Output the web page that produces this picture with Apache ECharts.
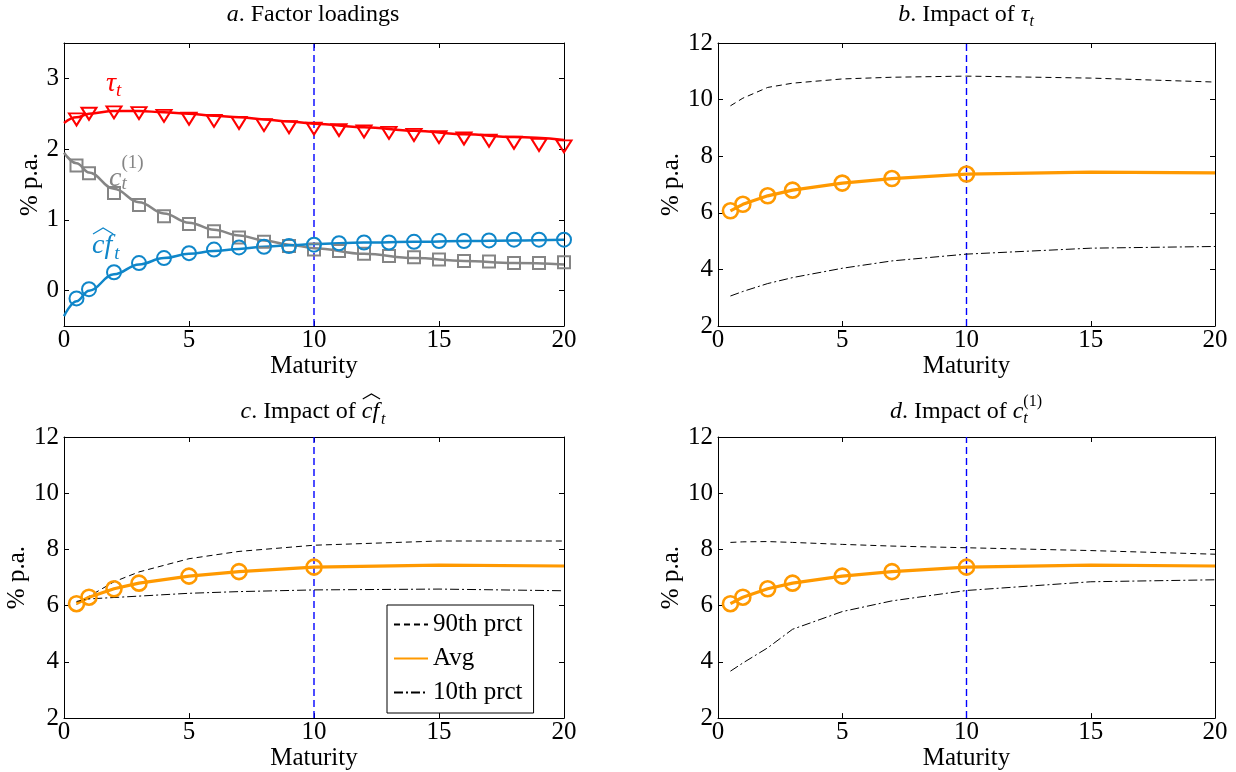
<!DOCTYPE html>
<html>
<head>
<meta charset="utf-8">
<script src="https://cdn.jsdelivr.net/npm/echarts@6/dist/echarts.min.js"></script>
<style>
  html, body { margin: 0; padding: 0; background: #fff; }
  #chart { width: 1236px; height: 772px; }
</style>
</head>
<body>
<div id="chart"></div>
<script>
// ---- Panel a: factor loadings across maturities (years) ----
const loadMaturities = [0.5, 1, 2, 3, 4, 5, 6, 7, 8, 9, 10, 11, 12, 13, 14, 15, 16, 17, 18, 19, 20];
const tauPoints = [2.42, 2.50, 2.52, 2.51, 2.47, 2.43, 2.40, 2.37, 2.34, 2.31, 2.29, 2.27, 2.25, 2.23, 2.20, 2.17, 2.15, 2.12, 2.09, 2.06, 2.04];
const c1Points  = [1.77, 1.66, 1.38, 1.21, 1.05, 0.94, 0.84, 0.75, 0.69, 0.63, 0.58, 0.56, 0.52, 0.49, 0.47, 0.44, 0.42, 0.41, 0.39, 0.39, 0.40];
const cfPoints  = [-0.11, 0.02, 0.26, 0.39, 0.46, 0.53, 0.58, 0.61, 0.62, 0.63, 0.65, 0.67, 0.68, 0.68, 0.69, 0.70, 0.70, 0.71, 0.72, 0.72, 0.72];

const curveMaturities = [0, 0.5, 1, 2, 3, 4, 5, 6, 7, 8, 9, 10, 12, 14, 16, 18, 20];
const tauCurve = [2.37, 2.45, 2.50, 2.54, 2.54, 2.52, 2.50, 2.47, 2.45, 2.42, 2.39, 2.36, 2.31, 2.26, 2.21, 2.17, 2.13];
const c1Curve  = [1.95, 1.80, 1.67, 1.44, 1.25, 1.09, 0.96, 0.86, 0.78, 0.71, 0.65, 0.60, 0.52, 0.46, 0.42, 0.39, 0.37];
const cfCurve  = [-0.36, -0.15, 0.00, 0.23, 0.37, 0.46, 0.52, 0.56, 0.59, 0.62, 0.64, 0.66, 0.68, 0.69, 0.70, 0.71, 0.72];

// ---- Panels b-d: impact on yields (% p.a.) ----
const impactMaturities = [0.5, 1, 2, 3, 5, 7, 10, 15, 20];
const markedMaturities = [0.5, 1, 2, 3, 5, 7, 10];
const avgImpact = [6.07, 6.30, 6.60, 6.80, 7.05, 7.21, 7.37, 7.44, 7.41];
const tauP90 = [9.78, 10.05, 10.43, 10.58, 10.73, 10.79, 10.83, 10.76, 10.62];
const tauP10 = [3.06, 3.22, 3.50, 3.71, 4.04, 4.30, 4.54, 4.75, 4.81];
const cfP90  = [6.05, 6.33, 6.85, 7.20, 7.67, 7.93, 8.15, 8.30, 8.30];
const cfP10  = [6.15, 6.24, 6.29, 6.34, 6.44, 6.50, 6.56, 6.59, 6.53];
const c1P90  = [8.25, 8.27, 8.28, 8.25, 8.18, 8.12, 8.06, 7.96, 7.83];
const c1P10  = [3.67, 3.96, 4.50, 5.16, 5.79, 6.17, 6.54, 6.85, 6.92];

// ---- Axis ranges and ticks ----
const maturityRange = [0, 20];
const loadRange = [-0.5, 3.5];
const impactRange = [2, 12];
const loadTicks = [0, 1, 2, 3];
const refMaturity = 10;

const FAM = '"Liberation Serif", "Times New Roman", serif';
const FS = 25;
const RED = '#ff0000', GRAY = '#858585', BLUE = '#0f86c9', ORANGE = '#ff9900', REFBLUE = '#0000ff';

const pairs = (xs, ys) => xs.map((x, i) => [x, ys[i]]);

const grids = [
  { left: 64,  top: 43,  width: 500, height: 283 },
  { left: 718, top: 43,  width: 497, height: 283 },
  { left: 64,  top: 437, width: 500, height: 283 },
  { left: 718, top: 437, width: 497, height: 283 }
];

function axisBase(extra) {
  return Object.assign({
    type: 'value',
    axisLine: { show: true, onZero: false, lineStyle: { color: '#000', width: 1 } },
    axisTick: { show: true, inside: true, length: 5, lineStyle: { color: '#000', width: 1 } },
    splitLine: { show: false },
    axisPointer: { show: false },
    axisLabel: { color: '#000', fontFamily: FAM, fontSize: FS }
  }, extra);
}

const xAxis = [], yAxis = [];
grids.forEach((g, i) => {
  xAxis.push(axisBase({
    gridIndex: i, position: 'bottom', min: maturityRange[0], max: maturityRange[1], interval: 5,
    name: 'Maturity', nameLocation: 'middle', nameGap: 26,
    nameTextStyle: { color: '#000', fontFamily: FAM, fontSize: FS },
    axisLabel: { color: '#000', fontFamily: FAM, fontSize: FS, margin: 2 }
  }));
  xAxis.push(axisBase({
    gridIndex: i, position: 'top', min: maturityRange[0], max: maturityRange[1], interval: 5,
    axisLabel: { show: false }
  }));
  const isLoad = i === 0;
  const range = isLoad ? { min: loadRange[0], max: loadRange[1] } : { min: impactRange[0], max: impactRange[1], interval: 2 };
  const tickOpt = isLoad
    ? { show: true, inside: true, length: 5, lineStyle: { color: '#000' }, customValues: loadTicks }
    : { show: true, inside: true, length: 5, lineStyle: { color: '#000' } };
  yAxis.push(axisBase(Object.assign({
    gridIndex: i, position: 'left',
    name: '% p.a.', nameLocation: 'middle', nameGap: isLoad ? 21 : 27, nameRotate: 90,
    nameTextStyle: { color: '#000', fontFamily: FAM, fontSize: FS },
    axisTick: tickOpt,
    axisLabel: Object.assign({ color: '#000', fontFamily: FAM, fontSize: FS, margin: 5 },
      isLoad ? { customValues: loadTicks } : {})
  }, range)));
  yAxis.push(axisBase(Object.assign({
    gridIndex: i, position: 'right',
    axisTick: tickOpt,
    axisLabel: { show: false }
  }, range)));
});

function curve(name, xs, ys, color, gi, width, extra) {
  return Object.assign({
    name: name, type: 'line', xAxisIndex: 2 * gi, yAxisIndex: 2 * gi,
    data: pairs(xs, ys), symbol: 'none',
    lineStyle: { color: color, width: width }, itemStyle: { color: color },
    emphasis: { disabled: true },
    z: 3
  }, extra || {});
}
function marks(xs, ys, color, gi, symbol, size, rotate, bw) {
  return {
    type: 'scatter', xAxisIndex: 2 * gi, yAxisIndex: 2 * gi,
    data: pairs(xs, ys), symbol: symbol, symbolSize: size, symbolRotate: rotate || 0,
    itemStyle: { color: 'rgba(255,255,255,0)', borderColor: color, borderWidth: bw || 2, opacity: 1 },
    z: 4, silent: true
  };
}
// vertical dashed line at the 10-year maturity, spanning the panel's y range
function refLine(gi, yr) {
  return curve('ref' + gi, [refMaturity, refMaturity], [yr[0], yr[1]], REFBLUE, gi, 1.4,
    { lineStyle: { color: REFBLUE, width: 1.4, type: [7, 4] }, z: 2, silent: true });
}

const avgMarked = markedMaturities.map(m => avgImpact[impactMaturities.indexOf(m)]);
const DASH = [6, 4], DASHDOT = [9, 3, 2, 3];

const series = [
  // panel a
  refLine(0, loadRange),
  curve('tau', curveMaturities, tauCurve, RED, 0, 2.5, { smooth: 0.4, smoothMonotone: 'x' }),
  curve('c1', curveMaturities, c1Curve, GRAY, 0, 2.5, { smooth: 0.4, smoothMonotone: 'x' }),
  curve('cf', curveMaturities, cfCurve, BLUE, 0, 2.5, { smooth: 0.4, smoothMonotone: 'x' }),
  marks(loadMaturities, tauPoints, RED, 0, 'triangle', [15, 12], 180, 2),
  marks(loadMaturities, c1Points, GRAY, 0, 'rect', [12, 12], 0, 2),
  marks(loadMaturities, cfPoints, BLUE, 0, 'circle', 14, 0, 2)
];

const impactSets = [[tauP90, tauP10], [cfP90, cfP10], [c1P90, c1P10]];
// panel c first so the legend takes its styles from it
[1, 0, 2].forEach(k => {
  const gi = k + 1;
  const [p90, p10] = impactSets[k];
  series.push(
    refLine(gi, impactRange),
    curve('90th prct', impactMaturities, p90, '#000', gi, 1, { lineStyle: { color: '#000', width: 1, type: DASH } }),
    curve('Avg', impactMaturities, avgImpact, ORANGE, gi, 3.2),
    curve('10th prct', impactMaturities, p10, '#000', gi, 1, { lineStyle: { color: '#000', width: 1, type: DASHDOT } }),
    marks(markedMaturities, avgMarked, ORANGE, gi, 'circle', 15, 0, 2.6)
  );
});

// ---- text with sub/superscripts ----
const mctx = document.createElement('canvas').getContext('2d');
function fontOf(p, size) { return (p.it ? 'italic ' : '') + (p.sz || size) + 'px ' + FAM; }
function mathText(parts, o) {
  let x = 0, prevStart = 0, hatA = null, hatB = null;
  const placed = [];
  parts.forEach(p => {
    const f = fontOf(p, o.size);
    mctx.font = f;
    const w = mctx.measureText(p.t).width;
    const start = p.stack ? prevStart : x + (p.gap || 0);
    if (!p.stack) prevStart = start;
    placed.push({ p, f, start, w });
    x = p.stack ? Math.max(x, start + w) : start + w;
    if (p.hatStart) hatA = start;
    if (p.hatEnd) hatB = start + w;
  });
  const left = o.align === 'center' ? o.x - x / 2 : o.x;
  const els = placed.map(q => {
    const sz = q.p.sz || o.size;
    return {
      type: 'text', silent: true,
      x: left + q.start, y: o.base + (q.p.dy || 0) - 0.305 * sz,
      style: { text: q.p.t, font: q.f, fill: o.color, verticalAlign: 'middle', align: 'left' }
    };
  });
  if (hatA !== null) {
    const hy = o.base - o.hatRise;
    els.push({
      type: 'polyline', silent: true,
      shape: { points: [[left + hatA + 1, hy], [left + (hatA + hatB) / 2 + 1, hy - o.hatH], [left + hatB + 1, hy]] },
      style: { stroke: o.color, lineWidth: 1.2, fill: null }
    });
  }
  return els;
}

const graphics = [].concat(
  // panel titles
  mathText([{ t: 'a', it: true }, { t: '. Factor loadings' }], { x: 313, base: 22, size: 24, align: 'center', color: '#000' }),
  mathText([{ t: 'b', it: true }, { t: '. Impact of ' }, { t: 'τ', it: true }, { t: 't', it: true, sz: 16, dy: 5 }],
    { x: 966, base: 22, size: 24, align: 'center', color: '#000' }),
  mathText([{ t: 'c', it: true }, { t: '. Impact of ' }, { t: 'c', it: true, hatStart: true }, { t: 'f', it: true, hatEnd: true },
    { t: 't', it: true, sz: 16, dy: 6, gap: 2 }],
    { x: 313, base: 419, size: 24, align: 'center', color: '#000', hatRise: 20, hatH: 5 }),
  mathText([{ t: 'd', it: true }, { t: '. Impact of ' }, { t: 'c', it: true }, { t: '(1)', sz: 16, dy: -12 },
    { t: 't', it: true, sz: 16, dy: 5, stack: true }],
    { x: 966, base: 419, size: 24, align: 'center', color: '#000' }),
  // curve labels in panel a
  mathText([{ t: 'τ', it: true }, { t: 't', it: true, sz: 19, dy: 5 }], { x: 106, base: 92, size: 28, align: 'left', color: RED }),
  mathText([{ t: 'c', it: true }, { t: '(1)', sz: 19, dy: -18 }, { t: 't', it: true, sz: 19, dy: 3, stack: true }],
    { x: 109, base: 187, size: 28, align: 'left', color: GRAY }),
  mathText([{ t: 'c', it: true, hatStart: true }, { t: 'f', it: true, hatEnd: true }, { t: 't', it: true, sz: 19, dy: 6, gap: 2 }],
    { x: 92, base: 254, size: 28, align: 'left', color: BLUE, hatRise: 20, hatH: 6 })
);

const chart = echarts.init(document.getElementById('chart'), null, { renderer: 'canvas' });
chart.setOption({
  animation: false,
  backgroundColor: '#fff',
  textStyle: { fontFamily: FAM },
  grid: grids.map(g => Object.assign({ containLabel: false }, g)),
  xAxis: xAxis,
  yAxis: yAxis,
  legend: {
    data: ['90th prct', 'Avg', '10th prct'],
    orient: 'vertical', left: 387, top: 605,
    backgroundColor: '#fff', borderColor: '#000', borderWidth: 1,
    padding: [7, 11, 8, 6], itemGap: 9, itemWidth: 34, itemHeight: 14,
    selectedMode: false,
    itemStyle: { color: 'rgba(0,0,0,0)', borderColor: 'rgba(0,0,0,0)', borderWidth: 0 },
    textStyle: { color: '#000', fontFamily: FAM, fontSize: FS }
  },
  series: series,
  graphic: { elements: graphics }
});
</script>
</body>
</html>
